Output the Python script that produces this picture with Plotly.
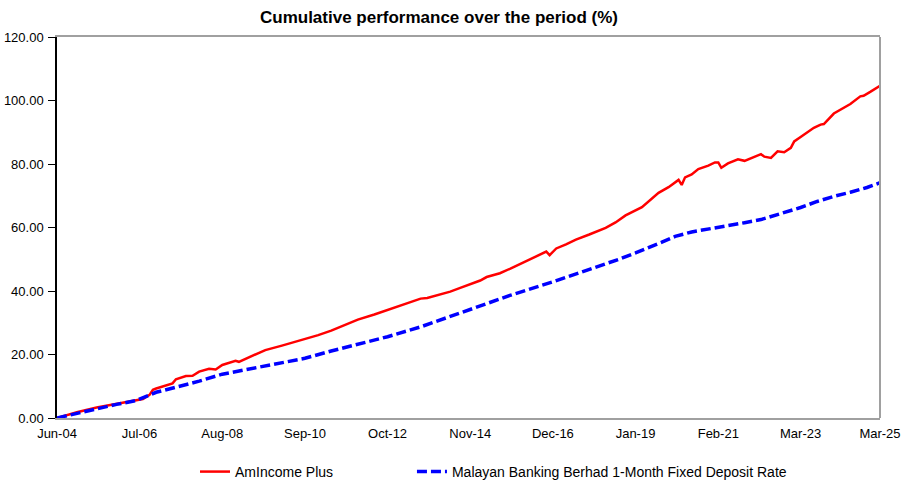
import plotly.graph_objects as go

title_text = "Cumulative performance over the period (%)"
red_name = "AmIncome Plus"
blue_name = "Malayan Banking Berhad 1-Month Fixed Deposit Rate"

red_dates = ["2004-06", "2004-12", "2005-06", "2005-12", "2006-06", "2006-08", "2006-10", "2006-11",
             "2006-12", "2007-03", "2007-05", "2007-06", "2007-09", "2007-11", "2008-01", "2008-04",
             "2008-06", "2008-08", "2008-12", "2009-01", "2009-05", "2009-09", "2010-02", "2010-09",
             "2011-01", "2011-05", "2011-09", "2012-01", "2012-06", "2012-10", "2013-02", "2013-05",
             "2013-08", "2013-10", "2014-02", "2014-05", "2014-08", "2014-11", "2015-02", "2015-04",
             "2015-06", "2015-08", "2015-11", "2016-02", "2016-06", "2016-10", "2016-11", "2017-01",
             "2017-04", "2017-07", "2017-11", "2018-04", "2018-07", "2018-10", "2019-03", "2019-06",
             "2019-08", "2019-11", "2020-02", "2020-03", "2020-04", "2020-06", "2020-08", "2020-11",
             "2021-01", "2021-02", "2021-03", "2021-05", "2021-08", "2021-10", "2022-01", "2022-03",
             "2022-04", "2022-06", "2022-08", "2022-10", "2022-12", "2023-01", "2023-03", "2023-05",
             "2023-07", "2023-09", "2023-10", "2024-01", "2024-04", "2024-06", "2024-09", "2024-10",
             "2024-12", "2025-03"]
red_values = [0.0, 1.8, 3.3, 4.5, 5.5, 6.0, 7.3, 8.9,
              9.3, 10.2, 10.9, 12.2, 13.2, 13.3, 14.6, 15.5,
              15.3, 16.7, 18.0, 17.7, 19.6, 21.4, 22.8, 24.8,
              26.1, 27.5, 29.3, 31.0, 32.6, 34.0, 35.4, 36.3,
              37.6, 37.8, 38.9, 39.8, 41.0, 42.2, 43.3, 44.4,
              45.0, 45.6, 47.0, 48.5, 50.3, 52.4, 51.3, 53.4,
              54.7, 56.2, 57.8, 59.9, 61.6, 63.8, 66.4, 69.0,
              70.9, 72.7, 75.0, 73.4, 75.8, 76.7, 78.4, 79.5,
              80.5, 80.5, 78.8, 80.2, 81.5, 81.0, 82.4, 83.1,
              82.3, 81.9, 84.0, 83.7, 85.1, 87.1, 88.5, 90.0,
              91.4, 92.4, 92.6, 95.9, 97.6, 98.9, 101.3, 101.5,
              102.7, 104.6]

blue_dates = ["2004-06", "2004-12", "2005-06", "2005-12", "2006-06", "2006-12", "2007-06", "2008-01",
              "2008-08", "2009-05", "2010-02", "2010-09", "2011-05", "2012-01", "2012-10", "2013-08",
              "2014-05", "2014-11", "2015-11", "2016-12", "2017-12", "2018-08", "2019-01", "2019-06",
              "2019-09", "2020-01", "2020-06", "2020-12", "2021-05", "2021-10", "2022-03", "2022-10",
              "2023-03", "2023-08", "2024-01", "2024-06", "2024-11", "2025-03"]
blue_values = [0.0, 1.5, 3.0, 4.3, 5.5, 8.1, 9.7, 11.6,
               13.8, 15.6, 17.2, 18.8, 21.1, 23.3, 25.6, 28.7,
               31.9, 34.2, 38.6, 42.9, 47.0, 50.0, 52.0, 54.0,
               55.4, 57.2, 58.6, 59.7, 60.5, 61.5, 62.5, 64.6,
               66.3, 68.2, 69.8, 71.1, 72.6, 74.1]

tick_dates = ["2004-06-01", "2006-07-01", "2008-08-01", "2010-09-01", "2012-10-01", "2014-11-01",
              "2016-12-01", "2019-01-01", "2021-02-01", "2023-03-01", "2025-03-01"]
tick_labels = ["Jun-04", "Jul-06", "Aug-08", "Sep-10", "Oct-12", "Nov-14",
               "Dec-16", "Jan-19", "Feb-21", "Mar-23", "Mar-25"]
y_ticks = [0, 20, 40, 60, 80, 100, 120]

fig = go.Figure()
fig.add_trace(go.Scatter(x=red_dates, y=red_values, mode="lines", name=red_name,
                         line=dict(color="#FF0000", width=2.5), legend="legend"))
fig.add_trace(go.Scatter(x=blue_dates, y=blue_values, mode="lines", name=blue_name,
                         line=dict(color="#0000FF", width=3.5, dash="10px,4px"), legend="legend2"))

font = "Liberation Sans, Arial, sans-serif"
leg_common = dict(orientation="h", xanchor="left", y=-0.0997, yanchor="top",
                  bgcolor="rgba(0,0,0,0)", font=dict(size=14, family=font, color="#000000"))
fig.update_layout(
    width=902, height=481,
    margin=dict(l=57, r=22, t=37, b=63, autoexpand=False),
    paper_bgcolor="white", plot_bgcolor="white",
    font=dict(family=font, size=13, color="#000000"),
    title=dict(text="<b>" + title_text + "</b>", x=439 / 902, xanchor="center", y=0.9647, yanchor="middle",
               font=dict(size=17, family=font, color="#000000")),
    showlegend=True,
    legend=dict(x=0.1677, **leg_common),
    legend2=dict(x=0.4313, **leg_common),
    xaxis=dict(type="date", range=["2004-06-01", "2025-03-01"], tickmode="array",
               tickvals=tick_dates, ticktext=tick_labels, showgrid=False, zeroline=False,
               showline=True, linecolor="#A0A0A0", linewidth=2, mirror=True, automargin=False,
               ticks="", ticklabelstandoff=2, tickfont=dict(size=13, color="#000000")),
    yaxis=dict(range=[0, 120], tickmode="array", tickvals=y_ticks, tickformat=".2f",
               showgrid=False, zeroline=False, showline=True, linecolor="#000000", linewidth=1.5,
               ticks="outside", ticklen=7, tickcolor="#000000", automargin=False,
               ticklabelstandoff=2, tickfont=dict(size=13, color="#000000")),
    shapes=[dict(type="line", xref="paper", yref="paper", x0=1, x1=1, y0=0, y1=1,
                 line=dict(color="#A0A0A0", width=2))],
)

fig.write_html("out.html", config={"displayModeBar": False},
               post_script="document.body.style.margin='0';")
